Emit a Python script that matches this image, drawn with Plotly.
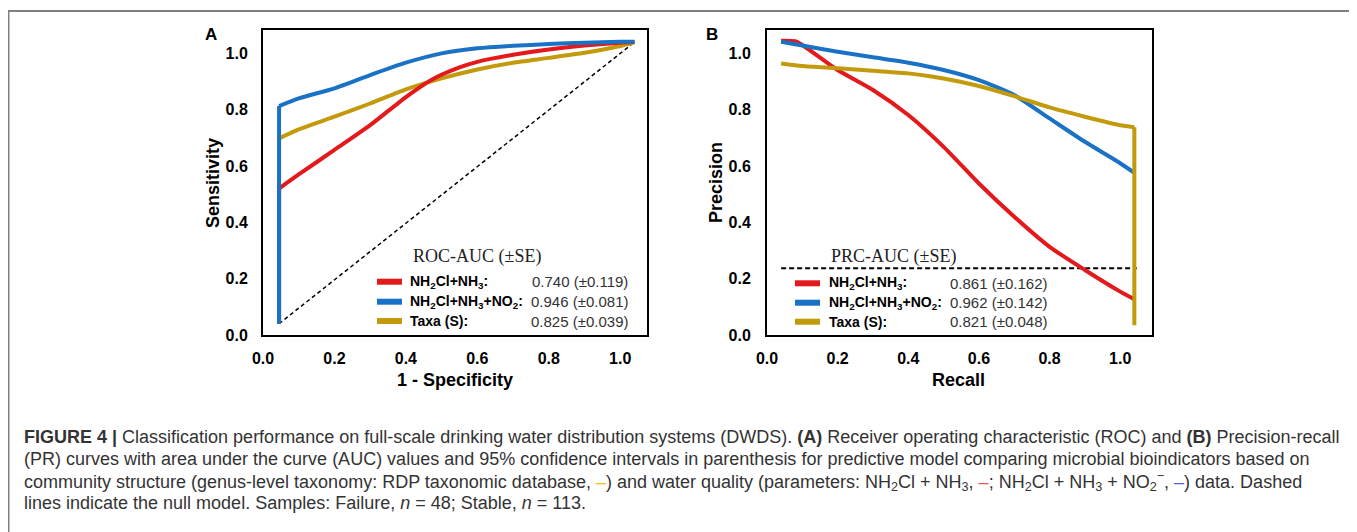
import plotly.graph_objects as go

W, H = 1357, 532
OFF = 8  # page body margin offset

# ---------------- data ----------------
roc_red_x = [0.045, 0.045, 0.10, 0.20, 0.30, 0.40, 0.47, 0.55, 0.60, 0.70, 0.80, 0.90, 1.00, 1.04]
roc_red_y = [0.04, 0.52, 0.57, 0.657, 0.745, 0.845, 0.905, 0.950, 0.970, 0.995, 1.014, 1.028, 1.038, 1.04]

roc_blue_x = [0.045, 0.045, 0.10, 0.20, 0.30, 0.40, 0.50, 0.60, 0.70, 0.80, 0.90, 1.00, 1.04]
roc_blue_y = [0.04, 0.813, 0.840, 0.876, 0.923, 0.967, 1.000, 1.018, 1.027, 1.033, 1.038, 1.041, 1.041]

roc_gold_x = [0.045, 0.045, 0.10, 0.20, 0.30, 0.40, 0.50, 0.60, 0.70, 0.80, 0.90, 1.00, 1.04]
roc_gold_y = [0.04, 0.698, 0.730, 0.775, 0.822, 0.872, 0.911, 0.943, 0.967, 0.984, 1.002, 1.026, 1.04]

roc_null_x = [0.045, 1.04]
roc_null_y = [0.04, 1.04]

prc_red_x = [0.04, 0.08, 0.10, 0.20, 0.30, 0.40, 0.50, 0.60, 0.70, 0.80, 0.90, 1.00, 1.04]
prc_red_y = [1.045, 1.043, 1.030, 0.941, 0.870, 0.781, 0.668, 0.538, 0.420, 0.313, 0.231, 0.154, 0.127]

prc_blue_x = [0.04, 0.10, 0.20, 0.30, 0.40, 0.50, 0.60, 0.70, 0.80, 0.90, 1.00, 1.04]
prc_blue_y = [1.041, 1.028, 1.006, 0.986, 0.967, 0.941, 0.905, 0.852, 0.769, 0.686, 0.610, 0.576]

prc_gold_x = [0.04, 0.10, 0.20, 0.30, 0.40, 0.50, 0.60, 0.70, 0.80, 0.90, 1.00, 1.04, 1.04]
prc_gold_y = [0.964, 0.955, 0.947, 0.938, 0.929, 0.911, 0.884, 0.848, 0.808, 0.775, 0.745, 0.738, 0.035]

prc_null_x = [0.04, 1.047]
prc_null_y = [0.237, 0.237]

tick_vals = [0.0, 0.2, 0.4, 0.6, 0.8, 1.0]
tick_text = ["0.0", "0.2", "0.4", "0.6", "0.8", "1.0"]

series_labels = ["NH<sub>2</sub>Cl+NH<sub>3</sub>:",
                 "NH<sub>2</sub>Cl+NH<sub>3</sub>+NO<sub>2</sub>:",
                 "Taxa (S):"]
roc_values = ["0.740 (±0.119)", "0.946 (±0.081)", "0.825 (±0.039)"]
prc_values = ["0.861 (±0.162)", "0.962 (±0.142)", "0.821 (±0.048)"]

RED, BLUE, GOLD = "#e3191c", "#1a72c6", "#c29a0b"
colors = [RED, BLUE, GOLD]

caption_lines = [
    "<b>FIGURE 4 |</b> Classification performance on full-scale drinking water distribution systems (DWDS). "
    "<b>(A)</b> Receiver operating characteristic (ROC) and <b>(B)</b> Precision-recall",
    "(PR) curves with area under the curve (AUC) values and 95% confidence intervals in parenthesis for "
    "predictive model comparing microbial bioindicators based on",
    "community structure (genus-level taxonomy: RDP taxonomic database, <span style='color:#f2c200'>–</span>) "
    "and water quality (parameters: NH<sub>2</sub>Cl + NH<sub>3</sub>, <span style='color:#e85a5a'>–</span>; "
    "NH<sub>2</sub>Cl + NH<sub>3</sub> + NO<sub>2</sub><sup>−</sup>, <span style='color:#5a5ae6'>–</span>) data. Dashed",
    "lines indicate the null model. Samples: Failure, <i>n</i> = 48; Stable, <i>n</i> = 113.",
]

# ---------------- helpers (target pixel -> paper) ----------------
def px_x(p):
    return (p - OFF) / W

def px_y(p):
    return 1 - (p - OFF) / H

fig = go.Figure()
LW = 4
SPL = dict(shape="spline", smoothing=0.6)

def add_curve(xs, ys, col, xa, ya, n_straight=2, spline=True):
    # straight vertical jump segment, then smoothed curve
    fig.add_trace(go.Scatter(x=xs[:n_straight], y=ys[:n_straight], mode="lines",
                             line=dict(color=col, width=LW), xaxis=xa, yaxis=ya, showlegend=False))
    line = dict(color=col, width=LW, **(SPL if spline else {}))
    fig.add_trace(go.Scatter(x=xs[n_straight - 1:], y=ys[n_straight - 1:], mode="lines",
                             line=line, xaxis=xa, yaxis=ya, showlegend=False))

# Panel A
fig.add_trace(go.Scatter(x=roc_null_x, y=roc_null_y, mode="lines",
                         line=dict(color="black", width=1.5, dash="4px,3px"),
                         xaxis="x", yaxis="y", showlegend=False, hoverinfo="skip"))
add_curve(roc_gold_x, roc_gold_y, GOLD, "x", "y")
add_curve(roc_red_x, roc_red_y, RED, "x", "y")
add_curve(roc_blue_x, roc_blue_y, BLUE, "x", "y")

# Panel B
fig.add_trace(go.Scatter(x=prc_null_x, y=prc_null_y, mode="lines",
                         line=dict(color="black", width=2, dash="5px,3px"),
                         xaxis="x2", yaxis="y2", showlegend=False, hoverinfo="skip"))
fig.add_trace(go.Scatter(x=prc_red_x, y=prc_red_y, mode="lines", line=dict(color=RED, width=LW, **SPL),
                         xaxis="x2", yaxis="y2", showlegend=False))
fig.add_trace(go.Scatter(x=prc_blue_x, y=prc_blue_y, mode="lines", line=dict(color=BLUE, width=LW, **SPL),
                         xaxis="x2", yaxis="y2", showlegend=False))
fig.add_trace(go.Scatter(x=prc_gold_x[:-1], y=prc_gold_y[:-1], mode="lines", line=dict(color=GOLD, width=LW, **SPL),
                         xaxis="x2", yaxis="y2", showlegend=False))
fig.add_trace(go.Scatter(x=prc_gold_x[-2:], y=prc_gold_y[-2:], mode="lines", line=dict(color=GOLD, width=LW),
                         xaxis="x2", yaxis="y2", showlegend=False))

tickfont = dict(family="Liberation Sans, Arial", size=16, color="black", weight="bold")
ax_common = dict(showgrid=False, zeroline=False, showline=True, linecolor="black", linewidth=2,
                 mirror=True, ticks="", tickvals=tick_vals, ticktext=tick_text, tickfont=tickfont,
                 automargin=False)

ydom = [px_y(335), px_y(30)]
fig.update_layout(
    width=W, height=H, autosize=False,
    margin=dict(l=0, r=0, t=0, b=0),
    paper_bgcolor="white", plot_bgcolor="white",
    xaxis=dict(domain=[px_x(263), px_x(647)], range=[0.0, 1.075], anchor="y", ticklabelstandoff=8, **ax_common),
    yaxis=dict(domain=ydom, range=[0.0, 1.083], anchor="x", ticklabelstandoff=10, **ax_common),
    xaxis2=dict(domain=[px_x(767), px_x(1152)], range=[0.0, 1.09], anchor="y2", ticklabelstandoff=8, **ax_common),
    yaxis2=dict(domain=ydom, range=[0.0, 1.083], anchor="x2", ticklabelstandoff=11, **ax_common),
    showlegend=False,
)

ann = []
shapes = []
bold = dict(family="Liberation Sans, Arial", color="black", weight="bold")

def txt(text, x, y, font, xanchor="center", yanchor="middle", **kw):
    ann.append(dict(text=text, x=px_x(x), y=px_y(y), xref="paper", yref="paper", showarrow=False,
                    xanchor=xanchor, yanchor=yanchor, font=font, **kw))

# Panel letters and axis titles
txt("A", 211, 35, dict(size=17, **bold))
txt("B", 712, 35, dict(size=17, **bold))
txt("1 - Specificity", 455, 380, dict(size=18, **bold))
txt("Recall", 958, 380, dict(size=18, **bold))
txt("Sensitivity", 213, 183, dict(size=18, **bold), textangle=-90)
txt("Precision", 716, 183, dict(size=18, **bold), textangle=-90)

# Custom legends
def legend(title, title_x, rows_y, sw_x0, sw_x1, lab_x, val_right, values):
    txt(title, title_x, 256, dict(family="Liberation Serif, Times New Roman", size=18, color="#222222"))
    for i, (lab, val, col) in enumerate(zip(series_labels, values, colors)):
        yy = rows_y[i]
        shapes.append(dict(type="line", xref="paper", yref="paper", x0=px_x(sw_x0), x1=px_x(sw_x1),
                           y0=px_y(yy), y1=px_y(yy), line=dict(color=col, width=6)))
        txt("<b>" + lab + "</b>", lab_x, yy, dict(family="Liberation Sans, Arial", size=14, color="black"),
            xanchor="left")
        txt(val, val_right, yy, dict(family="Liberation Sans, Arial", size=15, color="#333333"),
            xanchor="right")

legend("ROC-AUC (±SE)", 477, [281.7, 301.7, 321.0], 377, 402, 408, 630, roc_values)
legend("PRC-AUC (±SE)", 893, [283.3, 302.7, 321.7], 795, 820, 827, 1049, prc_values)

# Caption
cap_y = [437, 459, 481, 503]
for t, yy in zip(caption_lines, cap_y):
    txt(t, 22, yy, dict(family="Liberation Sans Narrow, Liberation Sans, Arial", size=18, color="#333333"),
        xanchor="left")

# Outer frame
shapes.append(dict(type="rect", xref="paper", yref="paper", x0=px_x(8.5), x1=px_x(1355.5),
                   y0=-0.2, y1=px_y(11), line=dict(color="#808080", width=2), layer="below"))

fig.update_layout(annotations=ann, shapes=shapes)
fig.write_html("out.html")
